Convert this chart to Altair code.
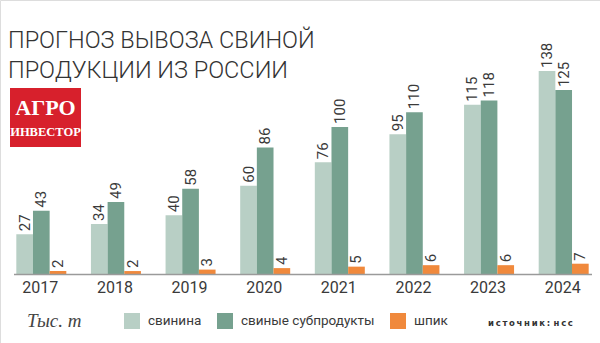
import altair as alt
import pandas as pd

years = ["2017", "2018", "2019", "2020", "2021", "2022", "2023", "2024"]
series_names = ["свинина", "свиные субпродукты", "шпик"]
pork = [27, 34, 40, 60, 76, 95, 115, 138]
offal = [43, 49, 58, 86, 100, 110, 118, 125]
fat = [2, 2, 3, 4, 5, 6, 6, 7]
colors = ["#b8cfc5", "#76a18f", "#f0893c"]

title_lines = ["ПРОГНОЗ ВЫВОЗА СВИНОЙ", "ПРОДУКЦИИ ИЗ РОССИИ"]
unit_label = "Тыс. т"
source_label = "и\u2009с\u2009т\u2009о\u2009ч\u2009н\u2009и\u2009к\u2009:\u2009\u2009н\u2009с\u2009с"
logo_lines = ["АГРО", "ИНВЕСТОР"]

rows = []
for i, y in enumerate(years):
    for s, vals in zip(series_names, [pork, offal, fat]):
        rows.append({"year": y, "series": s, "value": vals[i]})
df = pd.DataFrame(rows)

SANS = "Roboto"
TXT = "#3a3a3a"

xs = alt.X("year:N", scale=alt.Scale(domain=years, range=[4, 601], paddingInner=0.33, paddingOuter=0.165), axis=None)
xo = alt.XOffset("series:N", scale=alt.Scale(domain=series_names, paddingInner=0, paddingOuter=0))
ys = alt.Y("value:Q", scale=alt.Scale(domain=[0, 138], range=[274, 71], nice=False, zero=True), axis=None)

base = alt.Chart(df)

bars = base.mark_bar().encode(
    x=xs,
    xOffset=xo,
    y=ys,
    color=alt.Color(
        "series:N",
        scale=alt.Scale(domain=series_names, range=colors),
        legend=alt.Legend(
            orient="none", legendX=124, legendY=313, direction="horizontal",
            title=None, symbolType="square", symbolSize=256, symbolStrokeWidth=0,
            symbolOpacity=1, labelFont=SANS, labelFontSize=13.5, labelColor=TXT,
            labelOffset=8, columnPadding=15, columns=3, labelLimit=300,
        ),
    ),
)

labels = base.mark_text(
    angle=270, align="left", baseline="middle", dx=3, font=SANS, fontSize=15, color=TXT
).encode(x=xs, xOffset=xo, y=ys, text=alt.Text("value:Q"))

year_df = pd.DataFrame({"year": years})
year_labels = alt.Chart(year_df).mark_text(
    baseline="alphabetic", font=SANS, fontSize=16, color=TXT, dx=-1
).encode(x=alt.X("year:N", scale=alt.Scale(domain=years), axis=None), y=alt.value(293), text="year:N")

one = alt.Data(values=[{"a": 1}])

baseline = alt.Chart(one).mark_rule(color="#9a9a9a", strokeWidth=1.5).encode(
    x=alt.value(14), x2=alt.value(592), y=alt.value(274.5)
)

title1 = alt.Chart(one).mark_text(
    align="left", baseline="alphabetic", font=SANS, fontWeight=300, fontSize=23.5, color="#333333"
).encode(x=alt.value(8), y=alt.value(48), text=alt.value(title_lines[0]))
title2 = alt.Chart(one).mark_text(
    align="left", baseline="alphabetic", font=SANS, fontWeight=300, fontSize=23.5, color="#333333"
).encode(x=alt.value(8), y=alt.value(78), text=alt.value(title_lines[1]))

logo_rect = alt.Chart(one).mark_rect(color="#d7202c").encode(
    x=alt.value(10), x2=alt.value(81), y=alt.value(88), y2=alt.value(147)
)
logo1 = alt.Chart(one).mark_text(
    align="center", baseline="alphabetic", font="Liberation Serif", fontWeight="bold",
    fontSize=22, color="white"
).encode(x=alt.value(45.5), y=alt.value(115), text=alt.value(logo_lines[0]))
logo2 = alt.Chart(one).mark_text(
    align="center", baseline="alphabetic", font="Liberation Serif", fontWeight="bold",
    fontSize=12.5, color="white"
).encode(x=alt.value(45.5), y=alt.value(136), text=alt.value(logo_lines[1]))

unit = alt.Chart(one).mark_text(
    align="left", baseline="alphabetic", font="Liberation Serif", fontStyle="italic",
    fontSize=19, color="#444444"
).encode(x=alt.value(27), y=alt.value(327), text=alt.value(unit_label))

source = alt.Chart(one).mark_text(
    align="left", baseline="alphabetic", font="DejaVu Sans", fontWeight="bold",
    fontSize=8.5, color="#333333"
).encode(x=alt.value(488), y=alt.value(326), text=alt.value(source_label))

chart = alt.layer(
    bars, labels, year_labels, baseline, title1, title2, logo_rect, logo1, logo2, unit, source
).properties(
    width=600, height=343, padding=0, autosize=alt.AutoSizeParams(type="none")
).configure_view(stroke=None).configure(background="white")

chart.save("out.html", embed_options={"renderer": "svg", "actions": False})
